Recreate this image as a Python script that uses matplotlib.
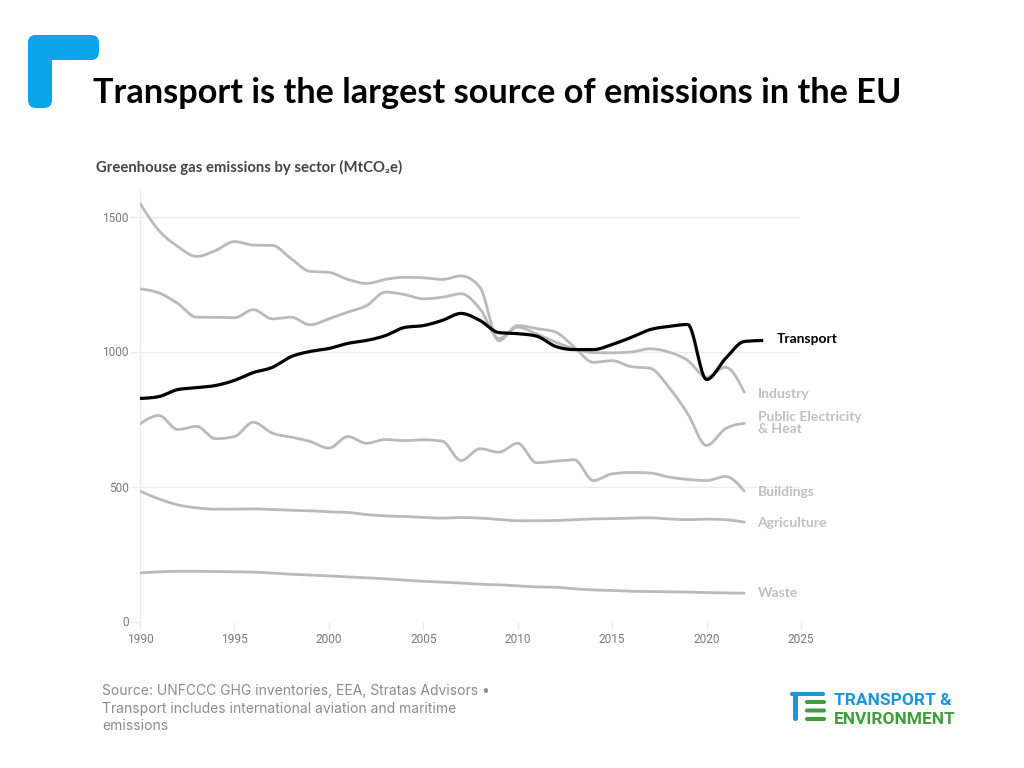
import numpy as np
import matplotlib
matplotlib.use("Agg")
import matplotlib.pyplot as plt
from matplotlib.patches import FancyBboxPatch

# ---------------- data ----------------
years = list(range(1990, 2023))
years_transport = list(range(1990, 2024))

transport = [826, 833, 859, 866, 874, 893, 922, 941, 981, 1000,
             1011, 1030, 1041, 1059, 1089, 1096, 1115, 1141, 1115, 1070,
             1066, 1057, 1019, 1007, 1007, 1026, 1052, 1081, 1093, 1100,
             896, 974, 1037, 1041]
public_electricity = [1549, 1448, 1389, 1352, 1374, 1407, 1394, 1393, 1344, 1297,
                      1293, 1267, 1252, 1267, 1275, 1273, 1267, 1280, 1238, 1040,
                      1096, 1085, 1072, 1016, 960, 966, 944, 938, 868, 770,
                      652, 714, 734]
industry = [1232, 1217, 1178, 1127, 1127, 1125, 1155, 1121, 1127, 1099,
            1121, 1146, 1170, 1220, 1211, 1195, 1201, 1214, 1158, 1048,
            1090, 1065, 1035, 1010, 996, 995, 998, 1010, 998, 967,
            905, 942, 849]
buildings = [732, 763, 711, 723, 677, 685, 738, 698, 683, 667,
             642, 685, 660, 674, 670, 673, 668, 596, 640, 627,
             660, 588, 594, 599, 522, 547, 552, 550, 535, 526,
             522, 537, 483]
agriculture = [483, 454, 432, 421, 416, 416, 417, 415, 412, 410,
               406, 404, 396, 391, 389, 385, 383, 385, 383, 378,
               373, 373, 374, 377, 380, 381, 383, 384, 380, 377,
               379, 377, 368]
waste = [180, 184, 186, 186, 185, 184, 183, 179, 175, 172,
         169, 165, 162, 158, 153, 149, 146, 142, 138, 136,
         132, 128, 127, 121, 117, 115, 112, 111, 110, 109,
         107, 106, 105]

labels = ["Transport", "Industry", "Public Electricity\n& Heat", "Buildings", "Agriculture", "Waste"]
x_ticks = [1990, 1995, 2000, 2005, 2010, 2015, 2020, 2025]
y_ticks = [0, 500, 1000, 1500]

title = "Transport is the largest source of emissions in the EU"
subtitle = "Greenhouse gas emissions by sector (MtCO\u2082e)"
source = ("Source: UNFCCC GHG inventories, EEA, Stratas Advisors \u2022\n"
          "Transport includes international aviation and maritime\n"
          "emissions")


# ------------- monotone curve (d3 curveMonotoneX style) -------------
def monotone_curve(x, y, n=24):
    x = np.asarray(x, float)
    y = np.asarray(y, float)
    h = np.diff(x)
    d = np.diff(y) / h
    m = np.zeros_like(y)
    for i in range(1, len(y) - 1):
        s0, s1 = d[i - 1], d[i]
        p = (s0 * h[i] + s1 * h[i - 1]) / (h[i - 1] + h[i])
        m[i] = (np.sign(s0) + np.sign(s1)) * min(abs(s0), abs(s1), 0.5 * abs(p))
    m[0] = (3 * d[0] - m[1]) / 2 if len(y) > 2 else d[0]
    m[-1] = (3 * d[-1] - m[-2]) / 2 if len(y) > 2 else d[-1]
    xs, ys = [], []
    for i in range(len(y) - 1):
        t = np.linspace(0, 1, n, endpoint=(i == len(y) - 2))
        h00 = 2 * t**3 - 3 * t**2 + 1
        h10 = t**3 - 2 * t**2 + t
        h01 = -2 * t**3 + 3 * t**2
        h11 = t**3 - t**2
        xs.append(x[i] + t * h[i])
        ys.append(h00 * y[i] + h10 * h[i] * m[i] + h01 * y[i + 1] + h11 * h[i] * m[i + 1])
    return np.concatenate(xs), np.concatenate(ys)


# ---------------- figure ----------------
W, H = 1024, 768
fig = plt.figure(figsize=(W / 100, H / 100), dpi=100)
fig.patch.set_facecolor("white")

# background overlay in pixel coordinates
bg = fig.add_axes([0, 0, 1, 1], zorder=0)
bg.set_xlim(0, W)
bg.set_ylim(H, 0)
bg.axis("off")

ax = fig.add_axes([140 / W, 1 - 621.5 / H, 661 / W, 432 / H], zorder=1)
ax.set_facecolor("none")

grey = "#bababa"
for series in [public_electricity, industry, buildings, agriculture, waste]:
    xs, ys = monotone_curve(years, series)
    ax.plot(xs, ys, color=grey, lw=2.0, solid_capstyle="round", solid_joinstyle="round", zorder=3)
xs, ys = monotone_curve(years_transport, transport)
ax.plot(xs, ys, color="black", lw=2.3, solid_capstyle="butt", solid_joinstyle="round", zorder=4)

ax.set_xlim(1990, 2025)
ax.set_ylim(0, 1600)
ax.set_xticks(x_ticks)
ax.set_yticks(y_ticks)
ax.set_xticklabels([str(v) for v in x_ticks])
ax.set_yticklabels([str(v) for v in y_ticks])
ax.grid(axis="y", color="#ececec", lw=1, zorder=0)
for s in ["top", "right", "bottom"]:
    ax.spines[s].set_visible(False)
ax.spines["left"].set_color("#ececec")
ax.spines["left"].set_linewidth(1)
ax.tick_params(axis="y", length=7, width=1, color="#ececec", pad=1,
               labelsize=8.6, labelcolor="#7a7a7a")
ax.tick_params(axis="x", length=6, width=1, color="#ececec", pad=2,
               labelsize=8.6, labelcolor="#7a7a7a")
for lab in ax.get_xticklabels() + ax.get_yticklabels():
    lab.set_family("Roboto")

# end labels
lab_font = dict(family="Lato", fontweight="bold", fontsize=10)
lab_grey = "#c0c0c0"
ax.text(2023.7, transport[-1] + 5, labels[0], color="black", va="center", ha="left", **lab_font)
ax.text(2022.7, 842, labels[1], color=lab_grey, va="center", ha="left", **lab_font)
ax.text(2022.7, 735, labels[2], color=lab_grey, va="center", ha="left",
        linespacing=0.92, **lab_font)
ax.text(2022.7, 478, labels[3], color=lab_grey, va="center", ha="left", **lab_font)
ax.text(2022.7, 366, labels[4], color=lab_grey, va="center", ha="left", **lab_font)
ax.text(2022.7, 104, labels[5], color=lab_grey, va="center", ha="left", **lab_font)

# ---------------- header ----------------
blue = "#0ca6e8"
bg.add_patch(FancyBboxPatch((28, 35), 71, 25, boxstyle="round,pad=0,rounding_size=8",
                            fc=blue, ec="none"))
bg.add_patch(FancyBboxPatch((28, 35), 24, 73, boxstyle="round,pad=0,rounding_size=8",
                            fc=blue, ec="none"))

bg.text(93, 103, title, fontsize=24.7, fontweight="bold", family="Lato",
        color="black", va="baseline", ha="left")
bg.text(96, 172, subtitle, fontsize=10.7, fontweight="bold",
        family=["Lato", "DejaVu Sans"], color="#444444", va="baseline", ha="left")

# ---------------- footer ----------------
bg.text(102, 684, source, fontsize=10, family="Inter", color="#8c8c8c",
        va="top", ha="left", linespacing=1.32)

te_blue = "#1b96dc"
te_green = "#3d9f3a"
bg.add_patch(FancyBboxPatch((790, 692), 35, 4, boxstyle="round,pad=0,rounding_size=2",
                            fc=te_blue, ec="none"))
bg.add_patch(FancyBboxPatch((793, 694), 5, 27, boxstyle="round,pad=0,rounding_size=2.5",
                            fc=te_blue, ec="none"))
for yy in [700, 708.5, 717]:
    bg.add_patch(FancyBboxPatch((805, yy), 21, 4, boxstyle="round,pad=0,rounding_size=2",
                                fc=te_green, ec="none"))
bg.text(834, 705, "TRANSPORT &", fontsize=12.5, fontweight="bold", family="Roboto",
        color=te_blue, va="baseline", ha="left")
bg.text(834, 724, "ENVIRONMENT", fontsize=12.5, fontweight="bold", family="Roboto",
        color=te_green, va="baseline", ha="left")

fig.savefig("out.png", dpi=100, facecolor="white")
